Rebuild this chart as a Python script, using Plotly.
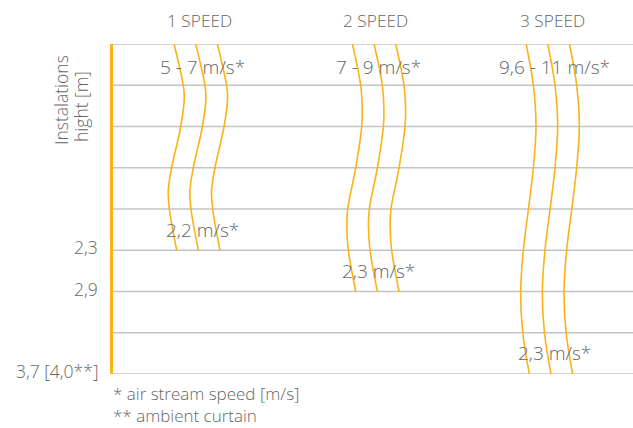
import plotly.graph_objects as go

# ---- data ----
speed_names = ["1 SPEED", "2 SPEED", "3 SPEED"]
speed_top_labels = ["5 - 7 m/s*", "7 - 9 m/s*", "9,6 - 11 m/s*"]
speed_end_labels = ["2,2 m/s*", "2,3 m/s*", "2,3 m/s*"]
reach_rows = [5, 6, 8]                       # grid row where each air stream ends
grid_rows = [0, 1, 2, 3, 4, 5, 6, 7, 8]
height_rows = [5, 6, 8]
height_labels = ["2,3", "2,9", "3,7 [4,0**]"]

# sway of the middle stream line (offset from column centre, x-axis units)
wave_rows_1 = [0, 1, 1.3, 2, 3, 3.55, 4, 5]
wave_off_1 = [-0.024, 0.028, 0.034, 0.014, -0.038, -0.057, -0.051, -0.009]
wave_rows_2 = [0, 1, 1.6, 2, 3, 4, 4.4, 5, 6]
wave_off_2 = [-0.011, 0.036, 0.045, 0.042, 0.008, -0.038, -0.043, -0.034, 0.008]
wave_rows_3 = [0, 1, 2, 3, 4, 5, 6, 7, 8]
wave_off_3 = [-0.024, 0.017, 0.032, 0.017, -0.011, -0.040, -0.055, -0.043, -0.006]
stream_gap = 0.123
stream_shift = [-1, 0, 1]

footnotes = ["* air stream speed [m/s]", "** ambient curtain"]
y_title_lines = ["Instalations", "hight [m]"]

ORANGE = "#FBB315"
GRID = "#c4c4c4"
TEXT = "#666666"
FONT = "Open Sans, sans-serif"

fig = go.Figure()

waves = [(wave_rows_1, wave_off_1), (wave_rows_2, wave_off_2), (wave_rows_3, wave_off_3)]
for ci, (rows, offs) in enumerate(waves):
    centre = ci + 1
    for s in stream_shift:
        fig.add_trace(go.Scatter(
            x=[centre + o + s * stream_gap for o in offs],
            y=rows,
            mode="lines",
            line=dict(color=ORANGE, width=1.6, shape="spline", smoothing=1.0),
            hoverinfo="skip",
            showlegend=False,
        ))

# grid lines
for r in grid_rows:
    fig.add_shape(type="line", xref="paper", x0=0, x1=1, yref="y", y0=r, y1=r,
                  line=dict(color=GRID, width=1.3), layer="below")


def fnt(size):
    return dict(size=size, color=TEXT, family=FONT, weight=300)


annotations = []
for ci in range(3):
    centre = ci + 1
    annotations.append(dict(x=centre, y=1.0727, xref="x", yref="paper", text=speed_names[ci],
                            yanchor="middle", showarrow=False, font=fnt(17.3)))
    annotations.append(dict(x=centre + 0.012, y=0.56, xref="x", yref="y", text=speed_top_labels[ci],
                            yanchor="middle", showarrow=False, font=fnt(19)))
    annotations.append(dict(x=centre + 0.012, y=reach_rows[ci] - 0.5, xref="x", yref="y",
                            text=speed_end_labels[ci], yanchor="middle",
                            showarrow=False, font=fnt(19)))

for r, t in zip(height_rows, height_labels):
    annotations.append(dict(x=0, y=r, xref="paper", yref="y", text=t, xanchor="right",
                            yanchor="middle", xshift=-13, yshift=3, showarrow=False,
                            font=fnt(17.5)))

annotations.append(dict(x=0, y=-0.1636, xref="paper", yref="paper", text="<br>".join(footnotes),
                        xanchor="left", yanchor="bottom", align="left", xshift=-1, borderpad=0,
                        showarrow=False, font=fnt(17)))

title_x = [-0.099, -0.0625]
title_y = [0.8288, 0.8106]
for i, t in enumerate(y_title_lines):
    annotations.append(dict(x=title_x[i], y=title_y[i], xref="paper", yref="paper", text=t,
                            xanchor="center", yanchor="middle", textangle=-90,
                            showarrow=False, font=fnt(17.5)))

fig.update_layout(
    width=633, height=428,
    margin=dict(l=113, r=0, t=44, b=54),
    paper_bgcolor="white", plot_bgcolor="white",
    annotations=annotations,
    xaxis=dict(range=[0.506, 3.460], showgrid=False, zeroline=False, showticklabels=False,
               showline=False),
    yaxis=dict(range=[8, 0], showgrid=False, zeroline=False, showticklabels=False,
               showline=True, linecolor=ORANGE, linewidth=3),
)

fig.write_html("out.html", config={"displayModeBar": False},
               post_script="document.body.style.margin='0';")
